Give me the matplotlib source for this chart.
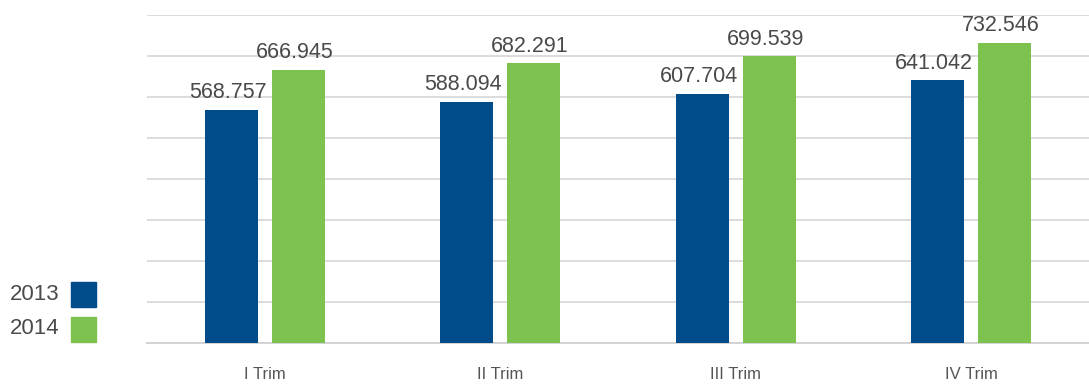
import matplotlib.pyplot as plt
import matplotlib.patches as mpatches
import numpy as np

plt.rcParams['font.family'] = ['Liberation Sans', 'DejaVu Sans']

quarters = ['I Trim', 'II Trim', 'III Trim', 'IV Trim']
years = ['2013', '2014']
values_2013 = [568.757, 588.094, 607.704, 641.042]
values_2014 = [666.945, 682.291, 699.539, 732.546]
colors = ['#004c8a', '#7dc24e']

W, H = 1089, 386
fig = plt.figure(figsize=(W / 100, H / 100), dpi=100)
ax = fig.add_axes([147 / W, 1 - 343 / H, 1 - 147 / W, (343 - 15) / H])

x = np.arange(len(quarters))
width = 0.225
offset = 0.142
for vals, off, col in [(values_2013, -offset, colors[0]), (values_2014, offset, colors[1])]:
    bars = ax.bar(x + off, vals, width, color=col, zorder=3)
    for b, v in zip(bars, vals):
        ax.text(b.get_x() + b.get_width() / 2 - 0.015, v + 16, f'{v:.3f}',
                ha='center', va='bottom', fontsize=15.5, color='#4a4a4a')

ax.set_xlim(-0.5, 3.5)
ax.set_ylim(0, 800)
ax.set_yticks(np.arange(0, 801, 100))
ax.yaxis.grid(True, color='#d9d9d9', lw=1.3, zorder=0)
ax.set_yticklabels([])
ax.tick_params(axis='y', length=0)
ax.tick_params(axis='x', length=0, pad=17, labelsize=12, labelcolor='#555555')
ax.set_xticks(x)
ax.set_xticklabels(quarters)
for s in ['top', 'right', 'left']:
    ax.spines[s].set_visible(False)
ax.spines['bottom'].set_color('#d0d0d0')
ax.spines['bottom'].set_linewidth(1.3)

# legend on the left
for i, (yr, col) in enumerate(zip(years, colors)):
    yc = 294 + i * 35
    fig.text(10 / W, 1 - yc / H, yr, ha='left', va='center', fontsize=16, color='#4a4a4a')
    fig.patches.append(mpatches.Rectangle((71 / W, 1 - (yc + 12.5) / H), 25 / W, 25 / H,
                                          transform=fig.transFigure, color=col))

fig.savefig('out.png', dpi=100)
